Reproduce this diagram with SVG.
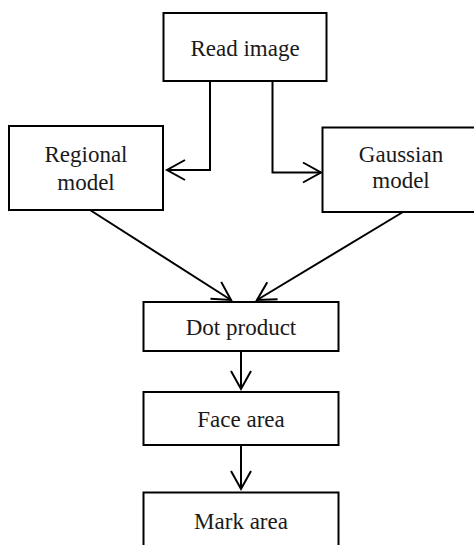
<svg xmlns="http://www.w3.org/2000/svg" width="474" height="545" viewBox="0 0 474 545">
<style>
.box{fill:#fff;stroke:#000;stroke-width:2}
.lbl{font-family:"Liberation Serif","Times New Roman",serif;font-size:23px;fill:#1a1a1a;text-anchor:middle}
.conn{fill:none;stroke:#000;stroke-width:2}
</style>
<defs>
<marker id="arr" markerUnits="userSpaceOnUse" markerWidth="24" markerHeight="24" viewBox="-20 -12 24 24" refX="0" refY="0" orient="auto">
<path d="M-18,-10 L0,0 L-18,10" fill="none" stroke="#000" stroke-width="2"/>
</marker>
</defs>
<rect width="474" height="545" fill="#fff"/>
<g id="connectors">
<path class="conn" d="M210,81 V170 H167" marker-end="url(#arr)"/>
<path class="conn" d="M272.5,81 V172.5 H321" marker-end="url(#arr)"/>
<path class="conn" d="M90,210 L231,300" marker-end="url(#arr)"/>
<path class="conn" d="M403,212 L257,300" marker-end="url(#arr)"/>
<path class="conn" d="M241,351 V389" marker-end="url(#arr)"/>
<path class="conn" d="M241,445 V489" marker-end="url(#arr)"/>
</g>
<g id="read-image">
<rect class="box" x="163.5" y="13" width="163" height="68"/>
<text class="lbl" x="245" y="56">Read image</text>
</g>
<g id="regional-model">
<rect class="box" x="9" y="126" width="154" height="84"/>
<text class="lbl" x="86" y="162">Regional</text>
<text class="lbl" x="86" y="190">model</text>
</g>
<g id="gaussian-model">
<rect class="box" x="322.5" y="127.5" width="170" height="84.5"/>
<text class="lbl" x="401" y="162">Gaussian</text>
<text class="lbl" x="401" y="188">model</text>
</g>
<g id="dot-product">
<rect class="box" x="143.5" y="302" width="195" height="49"/>
<text class="lbl" x="241" y="335">Dot product</text>
</g>
<g id="face-area">
<rect class="box" x="143.5" y="392" width="195" height="53"/>
<text class="lbl" x="241" y="427">Face area</text>
</g>
<g id="mark-area">
<rect class="box" x="143.5" y="492.5" width="195" height="70"/>
<text class="lbl" x="241" y="529">Mark area</text>
</g>
</svg>
